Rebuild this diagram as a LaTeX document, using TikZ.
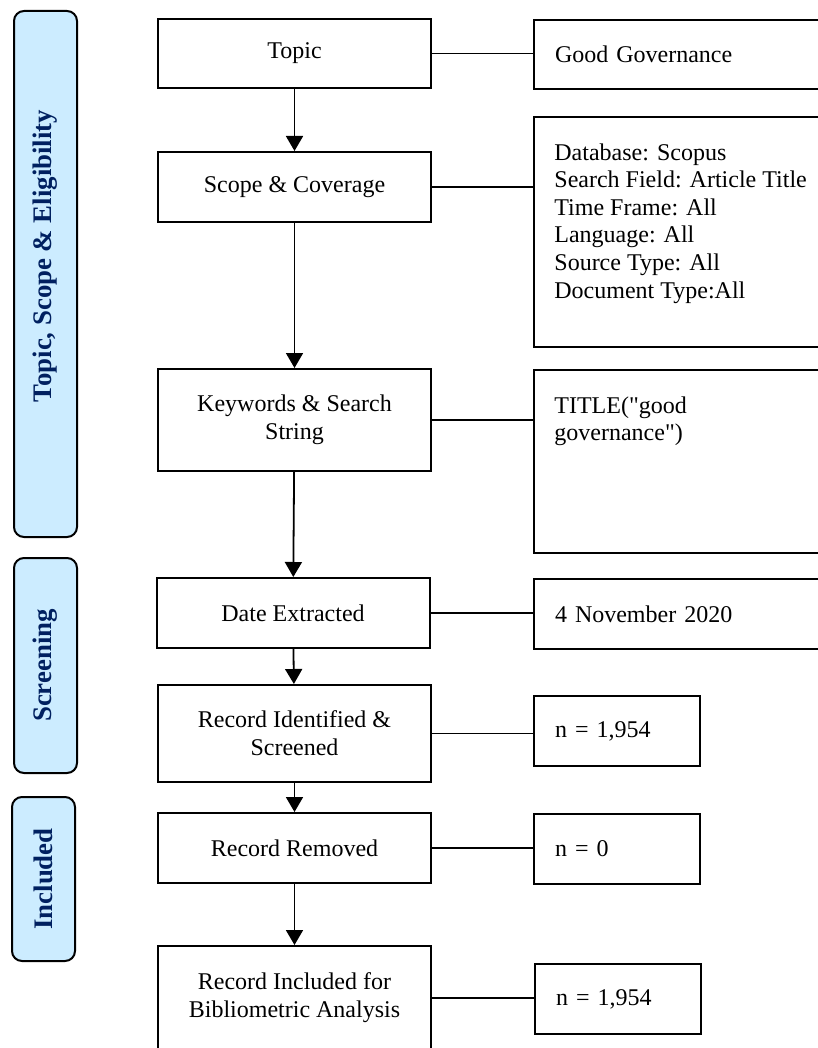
\documentclass[tikz,border=0pt]{standalone}
\usepackage{fontspec}
\setmainfont{Liberation Serif}
\usetikzlibrary{arrows.meta}
\definecolor{stagefill}{RGB}{204,236,255}
\definecolor{stagetext}{RGB}{0,32,96}
\tikzset{
  lbox/.style={draw,line width=1pt,minimum width=136.5pt,align=center,font=\fontsize{12}{14}\selectfont},
  rbox/.style={draw,line width=1pt,anchor=north west,minimum width=153.5pt,text width=132.5pt,inner xsep=10.5pt,align=left,font=\fontsize{12}{13.8}\selectfont},
  nbox/.style={rbox,minimum width=83pt,text width=62pt,minimum height=35pt},
  rtext/.style={anchor=north west,align=left,inner sep=0pt,font=\fontsize{12}{13.8}\selectfont},
  stagebar/.style={draw,line width=1pt,fill=stagefill,rounded corners=5pt,rotate=90,minimum height=31.5pt,text=stagetext,font=\bfseries\fontsize{13.4}{15}\selectfont},
  flow/.style={line width=0.9pt,-{Triangle[length=7.5pt,width=8.5pt]}},
  link/.style={line width=0.8pt}
}
\begin{document}
\begin{tikzpicture}[x=0.5pt,y=-0.5pt]
\useasboundingbox (0,0) rectangle (818,1048);
% stages
\node[stagebar,minimum width=263pt] (stage1) at (45.5,274) {\hspace{18pt}Topic, Scope \& Eligibility};
\node[stagebar,minimum width=107.5pt] (stage2) at (45.5,665.5) {Screening};
\node[stagebar,minimum width=82pt] (stage3) at (43.5,879) {Included};
% steps
\node[lbox,minimum height=34.5pt] (topic) at (294.5,53.5) {Topic};
\node[lbox,minimum height=35pt] (scope) at (294.5,187) {Scope \& Coverage};
\node[lbox,minimum height=51pt] (keywords) at (294.5,420) {Keywords \& Search\\String};
\node[lbox,minimum height=35pt] (date) at (293,613) {Date Extracted};
\node[lbox,minimum height=48.5pt] (screened) at (294.5,733.5) {Record Identified \&\\Screened};
\node[lbox,minimum height=35pt] (removed) at (294.5,848) {Record Removed};
\node[lbox,minimum height=52pt] (included) at (294.5,998) {Record Included for\\Bibliometric Analysis};
% details
\node[rbox,minimum height=34.5pt] (govern) at (533,19) {Good Governance};
\node[rbox,minimum height=115pt] (database) at (533,116) {};
\node[rtext] (dbtext) at (554,143) {Database: Scopus\\Search Field: Article Title\\Time Frame: All\\Language: All\\Source Type: All\\Document Type:All};
\node[rbox,minimum height=91.5pt] (search) at (533,369) {};
\node[rtext] (searchtext) at (554,396) {TITLE(\textquotedbl good\\governance\textquotedbl)};
\node[rbox,minimum height=35pt] (extracted) at (533,578) {4 November 2020};
\node[nbox] (found) at (533,695) {n = 1,954};
\node[nbox] (dropped) at (533,813) {n = 0};
\node[nbox] (kept) at (534,963) {n = 1,954};
% arrows
\draw[flow] (topic) -- (scope);
\draw[flow] (scope) -- (keywords);
\draw[flow] (keywords) -- (date);
\draw[flow] (date) -- (screened);
\draw[flow] (screened) -- (removed);
\draw[flow] (removed) -- (included);
% links
\draw[link] (topic.east) -- (topic.east -| govern.west);
\draw[link] (scope.east) -- (scope.east -| database.west);
\draw[link] (keywords.east) -- (keywords.east -| search.west);
\draw[link] (date.east) -- (date.east -| extracted.west);
\draw[link] (screened.east) -- (screened.east -| found.west);
\draw[link] (removed.east) -- (removed.east -| dropped.west);
\draw[link] (included.east) -- (included.east -| kept.west);
\end{tikzpicture}
\end{document}
